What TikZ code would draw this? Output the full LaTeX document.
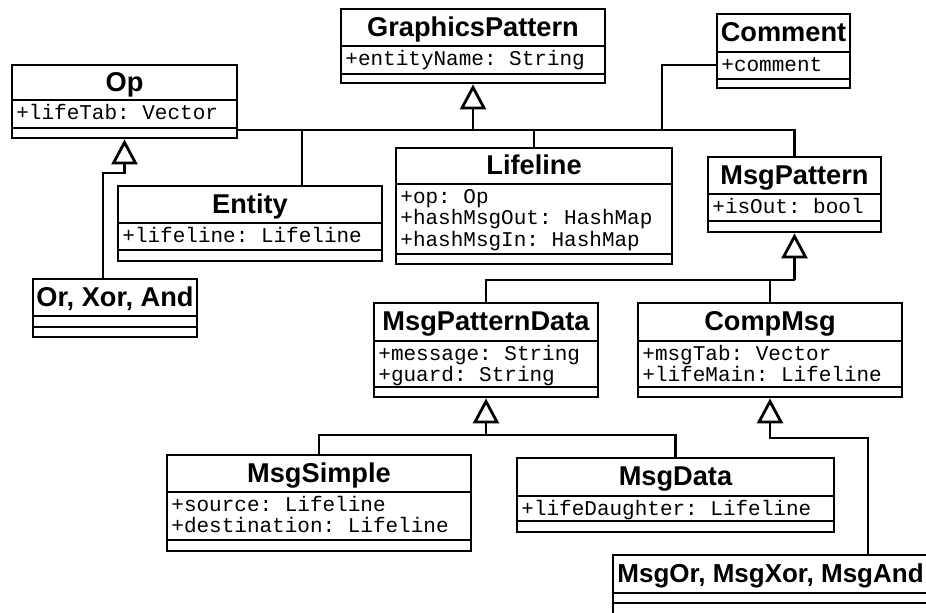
\documentclass[tikz,border=0pt]{standalone}
\usepackage{fontspec}
\setmainfont{Liberation Sans}
\setmonofont{Liberation Mono}
\usetikzlibrary{arrows.meta,fit}

\begin{document}
\begin{tikzpicture}[x=0.5pt, y=-0.5pt, line width=1.4pt,
    clsbox/.style={draw, inner sep=0pt},
    clstitle/.style={anchor=base, inner sep=0pt, font=\bfseries\fontsize{13.6}{16}\selectfont},
    clsattr/.style={anchor=base west, inner sep=0pt, font=\ttfamily\fontsize{10.5}{12}\selectfont},
    inh/.style={-{Triangle[open, length=12.5pt, width=13pt]}}]
    \useasboundingbox (0,0) rectangle (926,612);
    \clip (0,0) rectangle (926,612);

    % GraphicsPattern
    \node[clsbox, fit={(341,9) (605,83)}] (gp) {};
    \draw (341,46) -- (605,46) (341,74) -- (605,74);
    \node[clstitle] (gp-t) at (473,36) {GraphicsPattern};
    \node[clsattr] (gp-a) at (344,65) {+entityName: String};

    % Comment
    \node[clsbox, fit={(717,14) (850,88)}] (comment) {};
    \draw (717,52) -- (850,52) (717,79) -- (850,79);
    \node[clstitle] (comment-t) at (783.5,41.5) {Comment};
    \node[clsattr] (comment-a) at (720,71) {+comment};

    % Op
    \node[clsbox, fit={(12,65) (237,138)}] (op) {};
    \draw (12,100) -- (237,100) (12,128) -- (237,128);
    \node[clstitle] (op-t) at (124.5,91) {Op};
    \node[clsattr] (op-a) at (15,119) {+lifeTab: Vector};

    % Entity
    \node[clsbox, fit={(118,186) (382,261)}] (entity) {};
    \draw (118,223) -- (382,223) (118,250) -- (382,250);
    \node[clstitle] (entity-t) at (250,213) {Entity};
    \node[clsattr] (entity-a) at (121,242) {+lifeline: Lifeline};

    % Lifeline
    \node[clsbox, fit={(396,148) (672,264)}] (lifeline) {};
    \draw (396,184) -- (672,184) (396,254) -- (672,254);
    \node[clstitle] (lifeline-t) at (534,174.5) {Lifeline};
    \node[clsattr] (lifeline-a1) at (399,203) {+op: Op};
    \node[clsattr] (lifeline-a2) at (399,224.5) {+hashMsgOut: HashMap};
    \node[clsattr] (lifeline-a3) at (399,246) {+hashMsgIn: HashMap};

    % MsgPattern
    \node[clsbox, fit={(708,157) (881,232)}] (msgpattern) {};
    \draw (708,194) -- (881,194) (708,221) -- (881,221);
    \node[clstitle] (msgpattern-t) at (794.5,184) {MsgPattern};
    \node[clsattr] (msgpattern-a) at (711,213) {+isOut: bool};

    % Or, Xor, And
    \node[clsbox, fit={(33,279) (197,337)}] (orxorand) {};
    \draw (33,316) -- (197,316) (33,327) -- (197,327);
    \node[clstitle] (orxorand-t) at (115,306) {Or, Xor, And};

    % MsgPatternData
    \node[clsbox, fit={(374,303) (598,397)}] (mpdata) {};
    \draw (374,341) -- (598,341) (374,387) -- (598,387);
    \node[clstitle] (mpdata-t) at (486,330.5) {MsgPatternData};
    \node[clsattr] (mpdata-a1) at (377,360) {+message: String};
    \node[clsattr] (mpdata-a2) at (377,381.5) {+guard: String};

    % CompMsg
    \node[clsbox, fit={(638,303) (902,397)}] (compmsg) {};
    \draw (638,341) -- (902,341) (638,387) -- (902,387);
    \node[clstitle] (compmsg-t) at (770,330.5) {CompMsg};
    \node[clsattr] (compmsg-a1) at (641,360) {+msgTab: Vector};
    \node[clsattr] (compmsg-a2) at (641,381.5) {+lifeMain: Lifeline};

    % MsgSimple
    \node[clsbox, fit={(167,455) (471,551)}] (msgsimple) {};
    \draw (167,492) -- (471,492) (167,540) -- (471,540);
    \node[clstitle] (msgsimple-t) at (319,482) {MsgSimple};
    \node[clsattr] (msgsimple-a1) at (170,511) {+source: Lifeline};
    \node[clsattr] (msgsimple-a2) at (170,532.5) {+destination: Lifeline};

    % MsgData
    \node[clsbox, fit={(517,458) (834,532)}] (msgdata) {};
    \draw (517,496) -- (834,496) (517,521) -- (834,521);
    \node[clstitle] (msgdata-t) at (675.5,485.5) {MsgData};
    \node[clsattr] (msgdata-a) at (520,515) {+lifeDaughter: Lifeline};

    % MsgOr, MsgXor, MsgAnd (runs past the border)
    \node[clsbox, fit={(613,555) (932,614)}] (msgor) {};
    \draw (613,593) -- (932,593) (613,603) -- (932,603);
    \node[clstitle, anchor=base west, font=\bfseries\fontsize{13}{16}\selectfont] (msgor-t) at (616,582.5) {MsgOr, MsgXor, MsgAnd};

    % generalisation to GraphicsPattern
    \coordinate (gpbus) at (473,130);
    \coordinate (entdrop) at (302,130);
    \coordinate (cmtdrop) at (662,130);
    \draw[inh] (gpbus) -- (gp.south);
    \draw (op.east |- gpbus) -- (msgpattern.north |- gpbus) -- (msgpattern.north);
    \draw (entdrop) -- (entdrop |- entity.north);
    \draw (lifeline.north |- gpbus) -- (lifeline.north);
    \draw (cmtdrop) |- ([yshift=-7pt]comment.west);

    % Or, Xor, And to Op
    \coordinate (opbend) at (124.5,173);
    \draw[inh] ([xshift=-6pt]orxorand.north) |- (opbend) -- (op.south);

    % MsgPattern subclasses
    \coordinate (mpbus) at (794.5,280);
    \draw[inh] (mpbus) -- (msgpattern.south);
    \draw (mpdata.north) |- (mpbus);
    \draw (compmsg.north) -- (compmsg.north |- mpbus);

    % MsgPatternData subclasses
    \coordinate (mdbus) at (486,435);
    \draw[inh] (mdbus) -- (mpdata.south);
    \draw (msgsimple.north) |- (msgdata.north |- mdbus) -- (msgdata.north);

    % MsgOr to CompMsg
    \coordinate (cmdrop) at (868,438);
    \draw[inh] (msgor.north -| cmdrop) -- (cmdrop) -- (compmsg.south |- cmdrop) -- (compmsg.south);
\end{tikzpicture}
\end{document}
